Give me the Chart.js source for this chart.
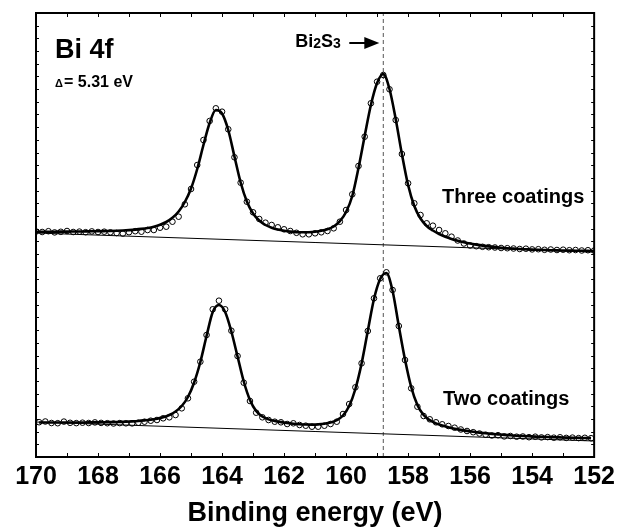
<!DOCTYPE html>
<html>
<head>
<meta charset="utf-8">
<title>Bi 4f</title>
<script src="https://cdn.jsdelivr.net/npm/chart.js@4.4.1/dist/chart.umd.min.js"></script>
<style>
	body { margin: 0; background: #fff; }
	canvas { display: block; }
</style>
</head>
<body>
<canvas id="graficoXPS" width="620" height="527"></canvas>
<script>
/* Dados: energia de ligação (eV) e intensidade (u.a.) */
var energias3 = [
	170.0,169.8,169.6,169.4,169.2,169.0,168.8,168.6,168.4,168.2,
	168.0,167.8,167.6,167.4,167.2,167.0,166.8,166.6,166.4,166.2,
	166.0,165.8,165.6,165.4,165.2,165.0,164.8,164.6,164.4,164.2,
	164.0,163.8,163.6,163.4,163.2,163.0,162.8,162.6,162.4,162.2,
	162.0,161.8,161.6,161.4,161.2,161.0,160.8,160.6,160.4,160.2,
	160.0,159.8,159.6,159.4,159.2,159.0,158.8,158.6,158.4,158.2,
	158.0,157.8,157.6,157.4,157.2,157.0,156.8,156.6,156.4,156.2,
	156.0,155.8,155.6,155.4,155.2,155.0,154.8,154.6,154.4,154.2,
	154.0,153.8,153.6,153.4,153.2,153.0,152.8,152.6,152.4,152.2,
	152.0
];
var dados3 = [
	225.5,225.0,225.8,224.6,225.2,226.0,225.0,225.4,224.8,225.6,
	225.0,225.3,224.7,224.0,223.4,224.8,225.8,225.3,227.0,227.0,
	229.3,230.3,235.3,240.3,252.7,268.0,292.0,317.0,336.0,348.7,
	345.3,327.7,299.7,274.3,255.3,244.7,238.0,234.3,232.0,229.7,
	227.7,226.0,224.2,222.7,222.7,223.7,224.7,226.0,228.7,235.3,
	247.0,262.7,291.0,320.3,353.7,375.3,382.0,367.7,337.0,303.0,
	273.7,253.7,242.0,233.7,231.3,227.0,223.7,220.3,216.5,213.5,
	211.5,210.8,210.2,209.8,209.5,209.0,208.8,208.5,208.0,208.3,
	207.6,207.8,207.2,207.5,207.0,207.3,206.8,207.0,206.5,206.8,
	206.4
];
var ajuste3 = [
	225.3,225.3,225.3,225.3,225.4,225.4,225.5,225.5,225.6,225.7,
	225.8,225.9,226.0,226.2,226.5,226.9,227.4,228.1,229.0,230.3,
	232.2,235.0,239.2,245.5,255.0,268.5,288.0,312.0,334.0,347.0,
	343.5,327.0,300.5,274.5,255.5,243.5,236.5,232.0,229.3,227.5,
	226.3,225.4,224.9,224.7,224.8,225.3,226.2,227.8,230.5,235.8,
	245.0,261.0,289.0,321.0,352.0,374.0,383.0,368.0,338.0,303.0,
	272.0,251.0,238.5,231.0,226.5,223.0,220.3,218.1,216.3,214.8,
	213.5,212.4,211.4,210.6,209.9,209.3,208.8,208.4,208.0,207.7,
	207.4,207.2,207.0,206.8,206.6,206.5,206.4,206.3,206.2,206.1,
	206.0
];

var energias2 = [
	169.9,169.7,169.5,169.3,169.1,168.9,168.7,168.5,168.3,168.1,
	167.9,167.7,167.5,167.3,167.1,166.9,166.7,166.5,166.3,166.1,
	165.9,165.7,165.5,165.3,165.1,164.9,164.7,164.5,164.3,164.1,
	163.9,163.7,163.5,163.3,163.1,162.9,162.7,162.5,162.3,162.1,
	161.9,161.7,161.5,161.3,161.1,160.9,160.7,160.5,160.3,160.1,
	159.9,159.7,159.5,159.3,159.1,158.9,158.7,158.5,158.3,158.1,
	157.9,157.7,157.5,157.3,157.1,156.9,156.7,156.5,156.3,156.1,
	155.9,155.7,155.5,155.3,155.1,154.9,154.7,154.5,154.3,154.1,
	153.9,153.7,153.5,153.3,153.1,152.9,152.7,152.5,152.3,152.1
];
var dados2 = [
	34.8,35.5,34.0,33.8,35.4,34.2,33.9,34.3,34.0,34.6,
	34.1,33.8,33.5,33.9,33.7,33.6,34.3,35.3,36.3,37.0,
	38.7,39.7,42.0,48.7,58.7,75.3,95.3,122.0,147.7,156.3,
	147.7,126.3,101.0,74.3,56.0,44.3,39.7,37.0,35.3,34.7,
	33.0,33.7,32.0,31.3,30.3,30.3,31.3,33.0,35.3,43.0,
	53.0,69.7,93.7,126.0,158.7,178.7,184.7,167.0,131.0,97.0,
	68.7,50.3,41.0,37.7,34.7,32.7,31.0,29.3,27.5,26.0,
	24.8,23.5,22.3,21.5,21.8,20.6,21.0,20.3,20.5,19.8,
	20.3,19.6,19.9,19.3,19.7,19.1,19.4,18.9,19.2,18.8
];
var ajuste2 = [
	34.5,34.5,34.5,34.5,34.5,34.5,34.5,34.5,34.6,34.6,
	34.7,34.8,34.9,35.1,35.3,35.6,36.0,36.6,37.3,38.3,
	39.7,42.0,45.5,51.0,60.0,74.5,95.0,121.0,145.0,152.0,
	145.0,125.5,100.5,75.5,57.0,46.0,40.5,37.6,36.0,34.9,
	34.0,33.3,32.8,32.5,32.4,32.6,33.2,34.4,36.8,41.5,
	51.0,68.0,93.5,126.0,158.0,178.0,184.0,166.0,131.0,97.5,
	70.0,52.0,42.0,36.8,33.6,31.4,29.7,28.3,27.1,26.1,
	25.2,24.4,23.7,23.1,22.6,22.1,21.7,21.3,21.0,20.7,
	20.4,20.2,20.0,19.8,19.6,19.4,19.3,19.1,19.0,18.9
];

/* Linhas de fundo (início e fim) */
var fundoX = [170, 152];
var fundo3 = [224, 205];
var fundo2 = [35, 16];

/* Posição do pico de Bi2S3 */
var picoBi2S3 = 158.8;

var ticksX = [170, 168, 166, 164, 162, 160, 158, 156, 154, 152];
var Y_MAX = 444;
var FONTE = 'Arial, "Liberation Sans", sans-serif';

var Espectro = Espectro || {};

Espectro.GraficoBi4f = (function() {

	function GraficoBi4f() {
		this.ctx = document.getElementById('graficoXPS').getContext('2d');
	}

	GraficoBi4f.prototype.iniciar = function() {
		var pontos = {
			showLine: false,
			pointRadius: 2.8,
			pointBorderWidth: 1,
			pointBorderColor: '#000',
			pointBackgroundColor: 'rgba(0,0,0,0)'
		};
		var curva = {
			showLine: true,
			borderColor: '#000',
			borderWidth: 2.6,
			pointRadius: 0,
			cubicInterpolationMode: 'monotone'
		};
		var fundo = {
			showLine: true,
			borderColor: '#000',
			borderWidth: 1,
			pointRadius: 0
		};

		new Chart(this.ctx, {
			type: 'scatter',
			data: {
				datasets: [
					Object.assign({ label: 'Three coatings', data: pares(energias3, dados3) }, pontos),
					Object.assign({ label: 'Three coatings fit', data: pares(energias3, ajuste3) }, curva),
					Object.assign({ label: 'Three coatings background', data: pares(fundoX, fundo3) }, fundo),
					Object.assign({ label: 'Two coatings', data: pares(energias2, dados2) }, pontos),
					Object.assign({ label: 'Two coatings fit', data: pares(energias2, ajuste2) }, curva),
					Object.assign({ label: 'Two coatings background', data: pares(fundoX, fundo2) }, fundo),
					{
						label: 'Bi2S3',
						data: [{ x: picoBi2S3, y: 0 }, { x: picoBi2S3, y: Y_MAX }],
						showLine: true,
						borderColor: '#555',
						borderWidth: 1,
						borderDash: [4, 3],
						pointRadius: 0
					}
				]
			},
			options: {
				responsive: false,
				animation: false,
				devicePixelRatio: 1,
				layout: { padding: { left: 36, right: 22, top: 13, bottom: 0 } },
				plugins: {
					legend: { display: false },
					tooltip: { enabled: false }
				},
				scales: {
					x: {
						type: 'linear',
						reverse: true,
						min: 152,
						max: 170,
						afterFit: function(escala) { escala.height = 70; },
						afterBuildTicks: function(escala) {
							escala.ticks = ticksX.map(function(v) { return { value: v }; });
						},
						grid: { display: false, drawTicks: false },
						border: { display: false },
						ticks: {
							padding: 5,
							color: '#000',
							maxRotation: 0,
							autoSkip: false,
							font: { family: FONTE, size: 25, weight: 'bold' }
						},
						title: {
							display: true,
							text: 'Binding energy (eV)',
							color: '#000',
							padding: 0,
							font: { family: FONTE, size: 27, weight: 'bold', lineHeight: 1 }
						}
					},
					y: {
						display: false,
						min: 0,
						max: Y_MAX
					}
				}
			},
			plugins: [moldura]
		});
	};

	function pares(xs, ys) {
		return xs.map(function(x, i) {
			return { x: x, y: ys[i] };
		});
	}

	function texto(ctx, s, x, y, tam) {
		ctx.font = 'bold ' + tam + 'px ' + FONTE;
		ctx.fillText(s, x, y);
		return x + ctx.measureText(s).width;
	}

	var moldura = {
		id: 'moldura',
		beforeDraw: function(chart) {
			var ctx = chart.ctx;
			ctx.save();
			ctx.fillStyle = '#fff';
			ctx.fillRect(0, 0, chart.width, chart.height);
			ctx.restore();
		},
		afterDatasetsDraw: function(chart) {
			var ctx = chart.ctx, a = chart.chartArea;
			var sx = chart.scales.x, sy = chart.scales.y;
			ctx.save();

			// marcas internas
			ctx.strokeStyle = '#000';
			ctx.lineWidth = 1;
			ctx.beginPath();
			for (var e = 153; e < 170; e++) {
				var px = Math.round(sx.getPixelForValue(e)) + 0.5;
				ctx.moveTo(px, a.bottom);
				ctx.lineTo(px, a.bottom - 4);
				ctx.moveTo(px, a.top);
				ctx.lineTo(px, a.top + 4);
			}
			for (var i = 1; i < 35; i++) {
				var py = Math.round(sy.getPixelForValue(i * Y_MAX / 35)) + 0.5;
				ctx.moveTo(a.left, py);
				ctx.lineTo(a.left + 3, py);
				ctx.moveTo(a.right, py);
				ctx.lineTo(a.right - 3, py);
			}
			ctx.stroke();

			// moldura
			ctx.lineWidth = 2;
			ctx.strokeRect(a.left, a.top, a.right - a.left, a.bottom - a.top);

			// textos
			ctx.fillStyle = '#000';
			ctx.textBaseline = 'alphabetic';
			ctx.textAlign = 'left';
			texto(ctx, 'Bi 4f', a.left + 19, a.top + 45, 27);
			texto(ctx, '\u0394', a.left + 19, a.top + 74, 11);
			texto(ctx, '= 5.31 eV', a.left + 28, a.top + 74, 16);
			texto(ctx, 'Three coatings', 442, 203, 20);
			texto(ctx, 'Two coatings', 443, 405, 20);

			// Bi2S3 com seta
			var xp = sx.getPixelForValue(picoBi2S3);
			var x = texto(ctx, 'Bi', xp - 88, 47, 18);
			x = texto(ctx, '2', x, 48, 14);
			x = texto(ctx, 'S', x, 47, 18);
			texto(ctx, '3', x, 48, 14);

			ctx.lineWidth = 2;
			ctx.beginPath();
			ctx.moveTo(xp - 34, 43);
			ctx.lineTo(xp - 16, 43);
			ctx.stroke();
			ctx.beginPath();
			ctx.moveTo(xp - 19, 37);
			ctx.lineTo(xp - 4, 43);
			ctx.lineTo(xp - 19, 49);
			ctx.closePath();
			ctx.fill();

			ctx.restore();
		}
	};

	return GraficoBi4f;

}());

var graficoBi4f = new Espectro.GraficoBi4f();
graficoBi4f.iniciar();
</script>
</body>
</html>
